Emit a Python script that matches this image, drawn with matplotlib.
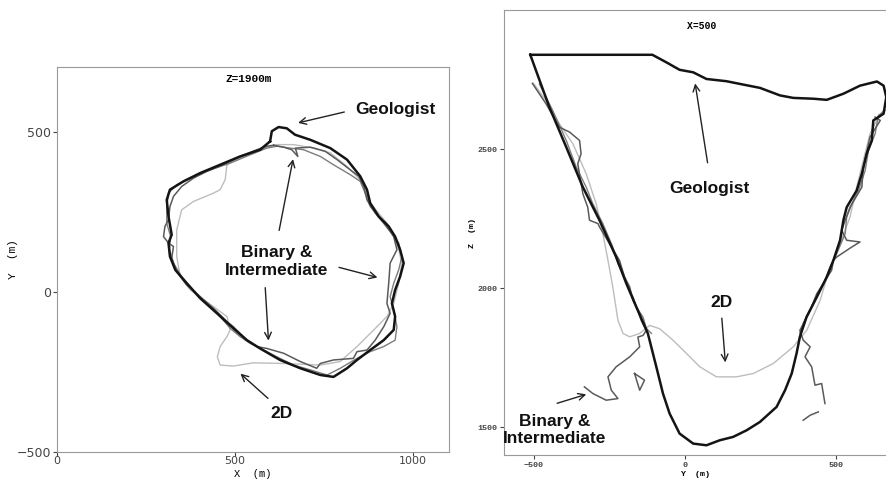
import numpy as np
import matplotlib
matplotlib.use("Agg")
import matplotlib.pyplot as plt

# ---- Z=1900m slice (X, Y in m) ----
geo_x = [598, 603, 622, 645, 668, 711, 767, 814, 851, 870, 879, 903, 931, 949, 963, 973, 963, 949, 940,
         949, 945, 917, 879, 842, 814, 776, 739, 683, 626, 570, 533, 495, 449, 402, 364, 332, 317, 313,
         322, 313, 308, 317, 355, 402, 458, 514, 570, 598]
geo_y = [472, 504, 517, 513, 493, 477, 451, 415, 363, 321, 279, 237, 206, 174, 133, 91, 49, 7, -35,
         -76, -118, -150, -181, -212, -238, -265, -259, -238, -212, -176, -150, -113, -66, -19, 28, 70, 112, 154,
         180, 237, 289, 321, 347, 373, 399, 425, 446, 472]

bin_x = [608, 636, 659, 676, 669, 711, 753, 786, 823, 847, 861, 870, 893, 917, 935, 945, 954, 935, 931,
         926, 935, 917, 893, 870, 842, 832, 776, 739, 729, 683, 636, 589, 561, 533, 495, 477, 439, 402,
         364, 336, 322, 327, 313, 299, 303, 313, 317, 327, 350, 383, 420, 467, 514, 561, 589, 608]
bin_y = [460, 454, 446, 425, 451, 454, 441, 415, 383, 363, 331, 289, 248, 216, 190, 174, 133, 91, 28,
         -35, -66, -108, -150, -181, -186, -207, -212, -223, -238, -217, -191, -176, -170, -150, -108, -92, -50, -14,
         23, 65, 107, 143, 154, 174, 206, 227, 268, 300, 331, 357, 378, 399, 425, 446, 457, 460]

int_x = [617, 655, 692, 739, 776, 823, 851, 865, 879, 907, 935, 959, 968, 959, 945, 935, 945, 954, 949,
         917, 879, 842, 795, 758, 711, 664, 617, 580, 542, 514, 486, 458, 420, 383, 350, 327, 316, 319,
         308, 308, 313, 336, 374, 430, 486, 542, 589, 617]
int_y = [457, 451, 446, 425, 399, 368, 347, 310, 268, 232, 195, 154, 112, 70, 28, -14, -55, -108, -150,
         -170, -186, -207, -238, -259, -243, -228, -202, -181, -160, -139, -113, -76, -35, 7, 49, 91, 133, 174,
         216, 268, 310, 336, 357, 383, 404, 430, 451, 457]

d2_x = [477, 472, 458, 439, 383, 350, 336, 336, 346, 374, 439, 477, 486, 477, 458, 450, 458, 495, 551,
        636, 739, 795, 842, 889, 926, 945, 959, 968, 954, 926, 879, 851, 814, 767, 720, 664, 617, 580,
        533, 495, 477]
d2_y = [399, 352, 321, 310, 284, 258, 195, 112, 49, 7, -45, -76, -118, -139, -170, -202, -228, -231, -221,
        -223, -228, -217, -170, -118, -76, -35, 28, 91, 154, 216, 279, 352, 394, 436, 451, 462, 462, 451,
        430, 410, 399]

# ---- X=500 section (Y, Z in m) ----
geo2_y = [-512, -108, -62, -18, 27, 71, 137, 192, 248, 314, 358, 425, 469, 524, 579, 635, 657, 666, 657,
          623, 618, 601, 585, 568, 535, 524, 513, 491, 469, 436, 402, 380, 369, 353, 331, 303, 248, 204,
          159, 115, 71, 27, -18, -51, -73, -95, -123, -161, -194, -228, -283, -338, -393, -449, -493, -512]
geo2_z = [2839, 2839, 2812, 2785, 2776, 2752, 2744, 2732, 2720, 2693, 2684, 2681, 2677, 2699, 2728, 2743, 2728, 2687, 2627,
          2603, 2531, 2483, 2411, 2351, 2291, 2244, 2172, 2100, 2040, 1968, 1896, 1825, 1765, 1693, 1633, 1573, 1519, 1489,
          1465, 1453, 1435, 1441, 1477, 1549, 1621, 1717, 1837, 1932, 2016, 2112, 2244, 2363, 2507, 2651, 2782, 2839]

bin2_y = [-505, -460, -416, -382, -349, -344, -355, -338, -322, -316, -288, -283, -250, -217, -200, -183, -172,
          -156, -145, -128, -139, -156, -150, -183, -228, -255, -244, -222, -261, -305, -333, np.nan,
          -167, -134, -150, -167, np.nan,
          629, 646, 612, 590, 585, 546, 518, 535, 579, 552, 502, 491, 485, 436, 414, 380, 391, 414, 397,
          419, 430, 452, 463, np.nan,
          391, 414, 441]
bin2_z = [2736, 2663, 2579, 2561, 2531, 2483, 2447, 2339, 2291, 2244, 2232, 2220, 2160, 2100, 2040, 2004, 1956,
          1920, 1884, 1848, 1830, 1824, 1789, 1753, 1717, 1681, 1633, 1603, 1597, 1621, 1645, np.nan,
          1693, 1669, 1633, 1693, np.nan,
          2615, 2603, 2543, 2435, 2363, 2291, 2208, 2172, 2166, 2148, 2112, 2100, 2064, 1980, 1920, 1848, 1813, 1789, 1753,
          1717, 1651, 1657, 1585, np.nan,
          1525, 1543, 1555]

int2_y = [-482, -438, -393, -360, -327, -305, -272, -239, -222, -205, -189, -172, -161, -139, -128, -111, np.nan,
          662, 640, 629, 607, 596, 574, 552, 535, 530, 502, 480, 463, 441, 419, 391, 380]
int2_z = [2734, 2639, 2531, 2435, 2363, 2303, 2232, 2148, 2088, 2052, 2004, 1968, 1932, 1896, 1855, 1837, np.nan,
          2639, 2621, 2555, 2495, 2423, 2351, 2303, 2256, 2196, 2124, 2076, 2028, 1980, 1932, 1873, 1837]

d2s_y = [-502, -460, -416, -371, -327, -294, -272, -255, -239, -222, -205, -183, -150, -117, -84, -40, 5, 49,
         104, 170, 226, 292, 358, 403, 447, 480, 513, 546, 568, 590, 612, 640, 657]
d2s_z = [2737, 2675, 2591, 2519, 2411, 2303, 2196, 2100, 2004, 1884, 1837, 1825, 1837, 1866, 1854, 1813, 1765, 1717,
         1681, 1681, 1693, 1729, 1789, 1849, 1956, 2076, 2160, 2256, 2363, 2459, 2555, 2615, 2639]

GEO_C, BIN_C, INT_C, D2_C = "#141414", "#5a5a5a", "#7d7d7d", "#bdbdbd"
ann_font = dict(family="Liberation Sans", weight="bold", fontsize=12.5, color="#111111")
arrow = dict(arrowstyle="->", color="#222222", lw=1.0, mutation_scale=12)

fig = plt.figure(figsize=(8.86, 4.79), dpi=100)

# ---------- left panel ----------
ax1 = fig.add_axes([0.0643, 0.0564, 0.4424, 0.8038])
ax1.plot(d2_x, d2_y, color=D2_C, lw=1.0)
ax1.plot(int_x, int_y, color=INT_C, lw=1.0)
ax1.plot(bin_x, bin_y, color=BIN_C, lw=1.1)
ax1.plot(geo_x, geo_y, color=GEO_C, lw=1.8)
ax1.set_xlim(0, 1100)
ax1.set_ylim(-500, 705)
ax1.set_xticks([0, 500, 1000])
ax1.set_yticks([-500, 0, 500])
ax1.tick_params(labelsize=9, colors="#444444", length=3, pad=1)
ax1.tick_params(axis="x", labelsize=8, pad=0)
ax1.set_xlabel("X  (m)", family="Liberation Mono", fontsize=7.5)
ax1.set_ylabel("Y  (m)", family="Liberation Mono", fontsize=8)
ax1.xaxis.set_label_coords(0.5, -0.043)
ax1.yaxis.set_label_coords(-0.1, 0.5)
for s in ax1.spines.values():
    s.set_color("#999999")
ax1.text(537, 668, "Z=1900m", family="Liberation Mono", weight="bold", fontsize=8, ha="center", va="center")

ax1.text(950, 571, "Geologist", ha="center", va="center", **ann_font)
ax1.annotate("", xy=(669, 528), xytext=(814, 566), arrowprops=arrow)
ax1.text(617, 96, "Binary &\nIntermediate", ha="center", va="center", linespacing=1.2, **ann_font)
ax1.annotate("", xy=(664, 425), xytext=(622, 185), arrowprops=arrow)
ax1.annotate("", xy=(907, 44), xytext=(784, 80), arrowprops=arrow)
ax1.annotate("", xy=(594, -160), xytext=(584, 23), arrowprops=arrow)
ax1.text(631, -379, "2D", ha="center", va="center", **ann_font)
ax1.annotate("", xy=(509, -249), xytext=(598, -338), arrowprops=arrow)

# ---------- right panel ----------
ax2 = fig.add_axes([0.5692, 0.0501, 0.4308, 0.929])
ax2.plot(d2s_y, d2s_z, color=D2_C, lw=1.0)
ax2.plot(int2_y, int2_z, color=INT_C, lw=1.0)
ax2.plot(bin2_y, bin2_z, color=BIN_C, lw=1.1)
ax2.plot(geo2_y, geo2_z, color=GEO_C, lw=1.8)
ax2.set_xlim(-598, 665)
ax2.set_ylim(1400, 3000)
ax2.set_xticks([-500, 0, 500])
ax2.set_yticks([1500, 2000, 2500])
ax2.tick_params(labelsize=6, colors="#444444", length=3, pad=2)
for lab in ax2.get_xticklabels() + ax2.get_yticklabels():
    lab.set_family("Liberation Mono")
    lab.set_weight("bold")
ax2.set_xlabel("Y  (m)", family="Liberation Mono", weight="bold", fontsize=6)
ax2.set_ylabel("Z  (m)", family="Liberation Mono", weight="bold", fontsize=6)
ax2.xaxis.set_label_coords(0.5, -0.035)
ax2.yaxis.set_label_coords(-0.075, 0.5)
for s in ax2.spines.values():
    s.set_color("#999999")
ax2.spines["right"].set_visible(False)
ax2.text(56, 2944, "X=500", family="Liberation Mono", weight="bold", fontsize=7, ha="center", va="center")

ax2.text(80, 2357, "Geologist", ha="center", va="center", **ann_font)
ax2.annotate("", xy=(32, 2746), xytext=(76, 2441), arrowprops=arrow)
ax2.text(121, 1950, "2D", ha="center", va="center", **ann_font)
ax2.annotate("", xy=(134, 1723), xytext=(121, 1902), arrowprops=arrow)
ax2.text(-432, 1489, "Binary &\nIntermediate", ha="center", va="center", linespacing=1.2, **ann_font)
ax2.annotate("", xy=(-318, 1621), xytext=(-432, 1583), arrowprops=arrow)

fig.savefig("out.png", dpi=100)
